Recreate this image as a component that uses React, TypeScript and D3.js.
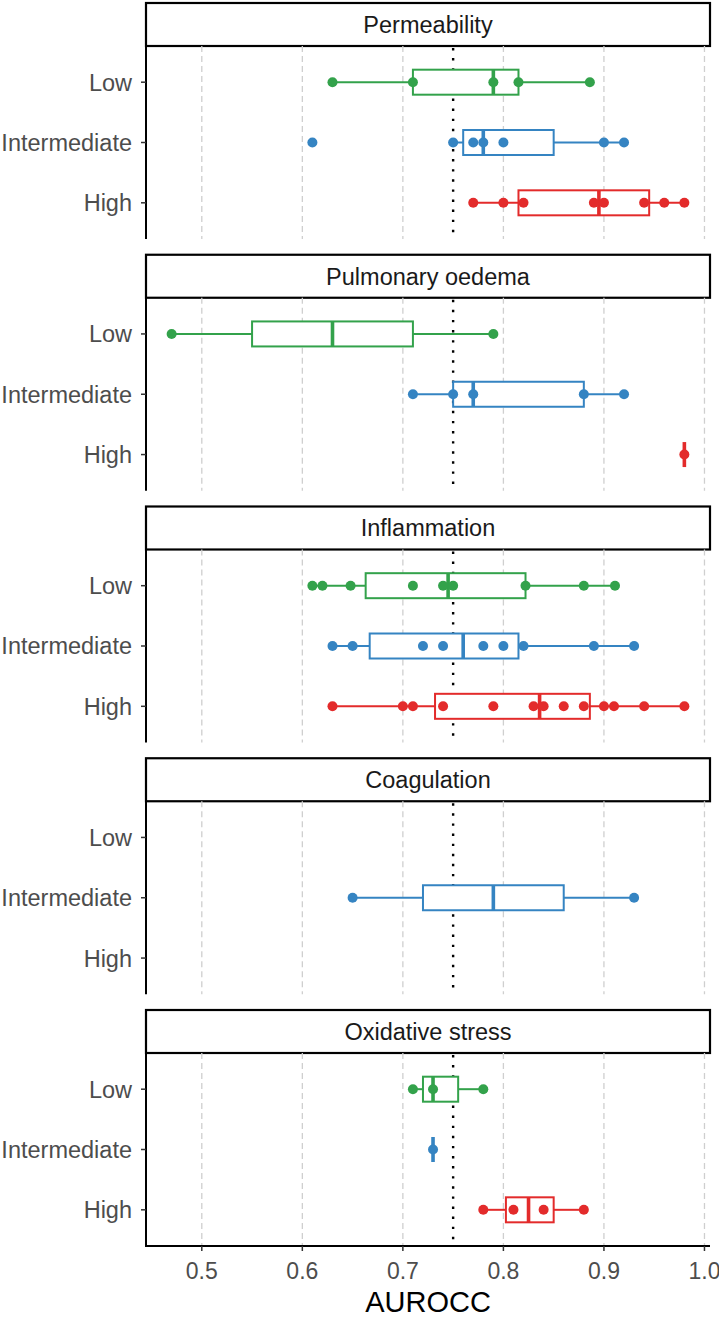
import React from 'react';
import * as d3 from 'd3';

// facet panels, top to bottom
const panels = ['Permeability', 'Pulmonary oedema', 'Inflammation', 'Coagulation', 'Oxidative stress'];
const levels = ['Low', 'Intermediate', 'High'];
const levelColors = ['#33a24b', '#3584c2', '#e32b2b'];
const xTicks = [0.5, 0.6, 0.7, 0.8, 0.9, 1.0];
const threshold = 0.75;

// individual AUROCC values per level (Low, Intermediate, High)
const permeabilityPoints = [
  [0.63, 0.71, 0.79, 0.815, 0.886],
  [0.61, 0.75, 0.77, 0.78, 0.8, 0.9, 0.92],
  [0.77, 0.8, 0.82, 0.89, 0.9, 0.94, 0.96, 0.98],
];
const pulmonaryPoints = [[0.47, 0.79], [0.71, 0.75, 0.77, 0.88, 0.92], [0.98]];
const inflammationPoints = [
  [0.61, 0.62, 0.648, 0.71, 0.74, 0.75, 0.822, 0.88, 0.911],
  [0.63, 0.65, 0.72, 0.74, 0.78, 0.8, 0.82, 0.89, 0.93],
  [0.63, 0.7, 0.71, 0.74, 0.79, 0.83, 0.84, 0.86, 0.88, 0.9, 0.91, 0.94, 0.98],
];
const coagulationPoints = [[], [0.65, 0.93], []];
const oxidativePoints = [[0.71, 0.73, 0.78], [0.73], [0.78, 0.81, 0.84, 0.88]];

// box stats: [whisker low, Q1, median, Q3, whisker high]
const permeabilityBoxes = [
  [0.63, 0.71, 0.79, 0.815, 0.886],
  [0.75, 0.76, 0.78, 0.85, 0.92],
  [0.77, 0.815, 0.895, 0.945, 0.98],
];
const pulmonaryBoxes = [
  [0.47, 0.55, 0.63, 0.71, 0.79],
  [0.71, 0.75, 0.77, 0.88, 0.92],
  [0.98, 0.98, 0.98, 0.98, 0.98],
];
const inflammationBoxes = [
  [0.61, 0.663, 0.745, 0.822, 0.911],
  [0.63, 0.667, 0.76, 0.815, 0.93],
  [0.63, 0.732, 0.836, 0.886, 0.98],
];
const coagulationBoxes = [null, [0.65, 0.72, 0.79, 0.86, 0.93], null];
const oxidativeBoxes = [
  [0.71, 0.72, 0.73, 0.755, 0.78],
  [0.73, 0.73, 0.73, 0.73, 0.73],
  [0.78, 0.8025, 0.825, 0.85, 0.88],
];

const allPoints = [permeabilityPoints, pulmonaryPoints, inflammationPoints, coagulationPoints, oxidativePoints];
const allBoxes = [permeabilityBoxes, pulmonaryBoxes, inflammationBoxes, coagulationBoxes, oxidativeBoxes];

const W = 719;
const H = 1318;
const panelLeft = 146;
const panelRight = 710;
const firstTop = 3;
const panelStep = 251.75;
const stripH = 43;
const plotH = 193;
const boxH = 25;
const font = '"Liberation Sans", Arial, sans-serif';

export default function App() {
  // ggplot-style 5% expansion around data range
  const flat = allPoints.flat(2) as number[];
  const lo = d3.min(flat) as number;
  const hi = d3.max(flat) as number;
  const pad = (hi - lo) * 0.05;
  const x = d3.scaleLinear().domain([lo - pad, hi + pad]).range([panelLeft, panelRight]);
  const y = d3.scalePoint<string>().domain(levels).range([0, plotH]).padding(0.6);

  const lastBottom = firstTop + (panels.length - 1) * panelStep + stripH + plotH;

  return (
    <svg width={W} height={H} style={{ position: 'absolute', left: 0, top: 0, display: 'block', background: '#fff' }}
      fontFamily={font}>
      {panels.map((name, pi) => {
        const top = firstTop + pi * panelStep;
        const plotTop = top + stripH;
        return (
          <g key={name}>
            {/* strip */}
            <rect x={panelLeft} y={top} width={panelRight - panelLeft} height={stripH}
              fill="#fff" stroke="#000" strokeWidth={2.2} />
            <text x={(panelLeft + panelRight) / 2} y={top + stripH / 2} dy="0.36em" textAnchor="middle"
              fontSize={23.5} fill="#1a1a1a">{name}</text>

            <g transform={`translate(0,${plotTop})`}>
              {/* grid */}
              {xTicks.map(t => (
                <line key={t} x1={x(t)} x2={x(t)} y1={0} y2={plotH} stroke="#cfcfcf"
                  strokeWidth={1.3} strokeDasharray="6,4" />
              ))}
              <line x1={x(threshold)} x2={x(threshold)} y1={2} y2={plotH} stroke="#000"
                strokeWidth={2.4} strokeDasharray="2.4,7.7" />

              {levels.map((lv, li) => {
                const b = allBoxes[pi][li];
                const c = levelColors[li];
                const cy = y(lv) as number;
                return (
                  <g key={lv}>
                    {b && (
                      <g>
                        <line x1={x(b[0])} x2={x(b[1])} y1={cy} y2={cy} stroke={c} strokeWidth={2} />
                        <line x1={x(b[3])} x2={x(b[4])} y1={cy} y2={cy} stroke={c} strokeWidth={2} />
                        <rect x={x(b[1])} y={cy - boxH / 2} width={x(b[3]) - x(b[1])} height={boxH}
                          fill="#fff" stroke={c} strokeWidth={2} />
                        <line x1={x(b[2])} x2={x(b[2])} y1={cy - boxH / 2} y2={cy + boxH / 2}
                          stroke={c} strokeWidth={3.6} />
                      </g>
                    )}
                    {allPoints[pi][li].map((v, k) => (
                      <circle key={k} cx={x(v)} cy={cy} r={5} fill={c} />
                    ))}
                  </g>
                );
              })}

              {/* y axis */}
              <line x1={panelLeft} x2={panelLeft} y1={0} y2={plotH} stroke="#000" strokeWidth={2} />
              {levels.map(lv => (
                <g key={lv} transform={`translate(0,${y(lv)})`}>
                  <line x1={panelLeft - 5} x2={panelLeft} stroke="#333" strokeWidth={1.5} />
                  <text x={panelLeft - 14} dy="0.36em" textAnchor="end" fontSize={23.5} fill="#4d4d4d">{lv}</text>
                </g>
              ))}
            </g>
          </g>
        );
      })}

      {/* x axis on last panel */}
      <line x1={panelLeft - 1} x2={panelRight} y1={lastBottom} y2={lastBottom} stroke="#000" strokeWidth={2} />
      {xTicks.map(t => (
        <g key={t} transform={`translate(${x(t)},${lastBottom})`}>
          <line y1={0} y2={5} stroke="#333" strokeWidth={1.5} />
          <text y={25} dy="0.36em" textAnchor="middle" fontSize={23} fill="#4d4d4d">{t.toFixed(1)}</text>
        </g>
      ))}
      <text x={(panelLeft + panelRight) / 2} y={lastBottom + 66} textAnchor="middle" fontSize={29} fill="#000">AUROCC</text>
    </svg>
  );
}
